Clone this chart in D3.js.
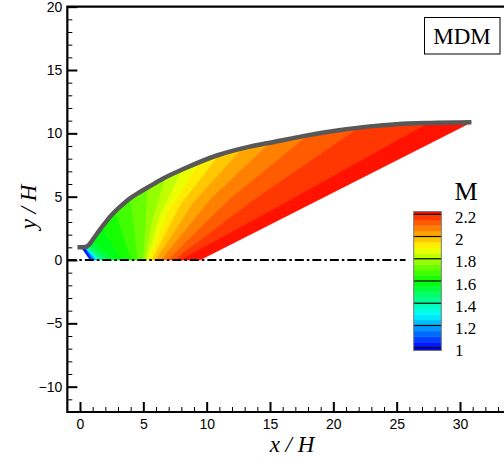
<!DOCTYPE html>
<html><head><meta charset="utf-8">
<script src="https://cdn.jsdelivr.net/npm/d3@7"></script>
<style>body{margin:0;background:#fff} svg{display:block}</style>
</head><body><svg id="chart" width="504" height="461"></svg>
<script>
// ---- data ----
// nozzle upper wall (x/H, y/H)
const wallX = [-0.2, 0.4, 0.7, 1.0, 1.5, 2.0, 2.5, 3.0, 3.5, 4.0, 4.7, 5.5, 6.5, 8.2, 10.8, 13.4, 15.3, 17.6, 20.3, 22.9, 25.0, 27.6, 30.9];
const wallY = [1.0, 1.02, 1.2, 1.6, 2.3, 2.95, 3.55, 4.05, 4.5, 4.9, 5.35, 5.82, 6.4, 7.2, 8.25, 8.95, 9.32, 9.78, 10.22, 10.55, 10.72, 10.82, 10.88];
// Mach contour level lines: axis point (y=0), optional bend point, wall point
const machLevels = [1.0, 1.05, 1.1, 1.15, 1.2, 1.25, 1.3, 1.35, 1.4, 1.45, 1.5, 1.55, 1.6, 1.65, 1.7, 1.75, 1.8, 1.85, 1.9, 1.95, 2.0, 2.05, 2.1, 2.15, 2.2];
const levelAxisX = [0.8, 0.92, 1.02, 1.12, 1.22, 1.32, 1.42, 1.53, 1.67, 1.88, 2.2, 2.75, 3.4, 4.1, 4.6, 5.0, 5.15, 5.3, 5.5, 5.7, 6.0, 6.4, 6.9, 7.4, 7.9];
const levelBendX = [null, null, null, null, null, null, null, null, null, null, null, null, null, null, null, 5.2, 5.7, 6.3, 7.0, 7.9, 9.0, 10.3, 11.8, 13.5, 15.8];
const levelBendY = [null, null, null, null, null, null, null, null, null, null, null, null, null, null, null, 2.6, 3.0, 3.5, 3.9, 4.3, 4.6, 4.8, 4.8, 4.6, 4.3];
const levelWallX = [0.1, 0.35, 0.4, 0.4, 0.4, 0.4, 0.42, 0.44, 0.46, 0.5, 0.6, 0.9, 1.7, 2.8, 4.0, 5.4, 6.8, 8.1, 9.5, 11.0, 12.8, 15.0, 18.0, 22.0, 27.5];
// final characteristic (end of the computed region)
const finalAxisX = 9.47, finalWallX = 30.9;
// colour map
const colorStops = [1.0, 1.3, 1.6, 1.9, 2.25];
const colorValues = ["#0000ff", "#00ffff", "#00ff00", "#ffff00", "#ff0000"];
// axes
const xTicks = [0, 5, 10, 15, 20, 25, 30];
const yTicks = [-10, -5, 0, 5, 10, 15, 20];
// legend
const legendTicks = [1, 1.2, 1.4, 1.6, 1.8, 2, 2.2];
const legendLabels = ["1", "1.2", "1.4", "1.6", "1.8", "2", "2.2"];
const legendRange = [0.975, 2.225];

// ---- drawing ----
const svg = d3.select("#chart");
const x = d3.scaleLinear().domain([-1, 34]).range([67.33, 510.67]);
const y = d3.scaleLinear().domain([-12, 20]).range([412, 6.67]);
const color = d3.scaleLinear().domain(colorStops).range(colorValues).clamp(true);
const wallAt = d3.scaleLinear().domain(wallX).range(wallY);

svg.append("clipPath").attr("id", "plotclip").append("rect")
  .attr("x", x(-1)).attr("y", y(20)).attr("width", x(34) - x(-1)).attr("height", y(-12) - y(20));
const plot = svg.append("g").attr("clip-path", "url(#plotclip)");

const line = d3.line().x(d => x(d[0])).y(d => y(d[1]));
const n = machLevels.length;
function levelLine(i) {
  if (i >= n) return [[finalAxisX, 0], [finalWallX, wallAt(finalWallX)]];
  const p = [[levelAxisX[i], 0]];
  if (levelBendX[i] !== null) p.push([levelBendX[i], levelBendY[i]]);
  p.push([levelWallX[i], wallAt(levelWallX[i])]);
  return p;
}
for (let i = 0; i < n; i++) {
  const l0 = levelLine(i), l1 = levelLine(i + 1);
  const w0 = l0[l0.length - 1][0], w1 = l1[l1.length - 1][0];
  const pts = l0.slice();
  wallX.forEach(wx => { if (wx > w0 && wx < w1) pts.push([wx, wallAt(wx)]); });
  l1.slice().reverse().forEach(p => pts.push(p));
  const c = color(machLevels[i] + 0.025);
  plot.append("path").attr("d", line(pts) + "Z")
    .attr("fill", c).attr("stroke", c).attr("stroke-width", 0.6).attr("stroke-linejoin", "round");
}

// symmetry axis (dash-dot)
plot.append("line")
  .attr("x1", x(-1)).attr("x2", x(25.7)).attr("y1", y(0)).attr("y2", y(0))
  .attr("stroke", "#000").attr("stroke-width", 2).attr("stroke-dasharray", "9,3,2.5,3");

// wall
plot.append("path").attr("d", d3.line().x(d => x(d[0])).y(d => y(d[1])).curve(d3.curveMonotoneX)(wallX.map((v, i) => [v, wallY[i]])))
  .attr("fill", "none").attr("stroke", "#585858").attr("stroke-width", 4.5).attr("stroke-linecap", "butt");

// axes
const fontTick = "'Liberation Sans', Arial, sans-serif";
const minorX = d3.range(0, 34, 1).filter(v => v % 5 !== 0);
const minorY = d3.range(-11, 20, 1).filter(v => v % 5 !== 0);
const gx = svg.append("g").attr("transform", `translate(0,${y(-12)})`)
  .call(d3.axisBottom(x).tickValues(xTicks).tickSize(-10).tickSizeOuter(0).tickPadding(7).tickFormat(d3.format("d")));
const gxm = svg.append("g").attr("transform", `translate(0,${y(-12)})`)
  .call(d3.axisBottom(x).tickValues(minorX).tickSize(-5).tickSizeOuter(0).tickFormat(""));
const gy = svg.append("g").attr("transform", `translate(${x(-1)},0)`)
  .call(d3.axisLeft(y).tickValues(yTicks).tickSize(-10).tickSizeOuter(0).tickPadding(5).tickFormat(d3.format("d")));
const gym = svg.append("g").attr("transform", `translate(${x(-1)},0)`)
  .call(d3.axisLeft(y).tickValues(minorY).tickSize(-5).tickSizeOuter(0).tickFormat(""));
[gx, gxm, gy, gym].forEach(g => {
  g.select(".domain").remove();
  g.selectAll("line").attr("stroke", "#000");
  g.selectAll("text").attr("font-family", fontTick).attr("font-size", 14).attr("fill", "#000");
});
gx.selectAll(".tick line").attr("stroke-width", 2);
gy.selectAll(".tick line").attr("stroke-width", 2);
gxm.selectAll(".tick line").attr("stroke-width", 1);
gym.selectAll(".tick line").attr("stroke-width", 1);

// frame
svg.append("path")
  .attr("d", `M${x(34)},${y(20)}H${x(-1)}V${y(-12)}H${x(34)}`)
  .attr("fill", "none").attr("stroke", "#000").attr("stroke-width", 2.2);

// axis titles
svg.append("text").attr("x", 292).attr("y", 452).attr("text-anchor", "middle")
  .attr("font-family", "'Liberation Serif', 'Times New Roman', serif").attr("font-style", "italic")
  .attr("font-size", 23).text("x / H");
svg.append("text").attr("transform", "translate(36,207) rotate(-90)").attr("text-anchor", "middle")
  .attr("font-family", "'Liberation Serif', 'Times New Roman', serif").attr("font-style", "italic")
  .attr("font-size", 23).text("y / H");

// colour legend
const ly = d3.scaleLinear().domain([1.0, 2.2]).range([347.7, 214.3]);
const lx0 = 413.7, lx1 = 441.3;
const bandEdges = [legendRange[0]].concat(d3.range(1.0, 2.2001, 0.05)).concat([legendRange[1]]);
const leg = svg.append("g");
for (let i = 0; i < bandEdges.length - 1; i++) {
  const lo = bandEdges[i], hi = bandEdges[i + 1];
  if (hi - lo < 1e-6) continue;
  const mid = lo < 1.0 ? lo : lo + 0.025;
  leg.append("rect").attr("x", lx0).attr("width", lx1 - lx0)
    .attr("y", ly(hi)).attr("height", ly(lo) - ly(hi) + 0.3)
    .attr("fill", color(Math.min(mid, 2.24)));
}
legendTicks.forEach((t, i) => {
  leg.append("line").attr("x1", lx0).attr("x2", lx1).attr("y1", ly(t)).attr("y2", ly(t))
    .attr("stroke", "#000").attr("stroke-width", 1.2);
  leg.append("text").attr("x", 455).attr("y", ly(t) + 8.7)
    .attr("font-family", "'Liberation Serif', 'Times New Roman', serif").attr("font-size", 17)
    .text(legendLabels[i]);
});
leg.append("rect").attr("x", lx0).attr("y", ly(legendRange[1])).attr("width", lx1 - lx0)
  .attr("height", ly(legendRange[0]) - ly(legendRange[1]))
  .attr("fill", "none").attr("stroke", "#777").attr("stroke-width", 1);
leg.append("text").attr("x", 466).attr("y", 200).attr("text-anchor", "middle")
  .attr("font-family", "'Liberation Serif', 'Times New Roman', serif").attr("font-size", 26).text("M");

// MDM label box
svg.append("rect").attr("x", 424.5).attr("y", 17.5).attr("width", 75.5).attr("height", 36.5)
  .attr("fill", "#fff").attr("stroke", "#000").attr("stroke-width", 1);
svg.append("text").attr("x", 462).attr("y", 43.5).attr("text-anchor", "middle")
  .attr("font-family", "'Liberation Serif', 'Times New Roman', serif").attr("font-size", 23).text("MDM");
</script></body></html>
